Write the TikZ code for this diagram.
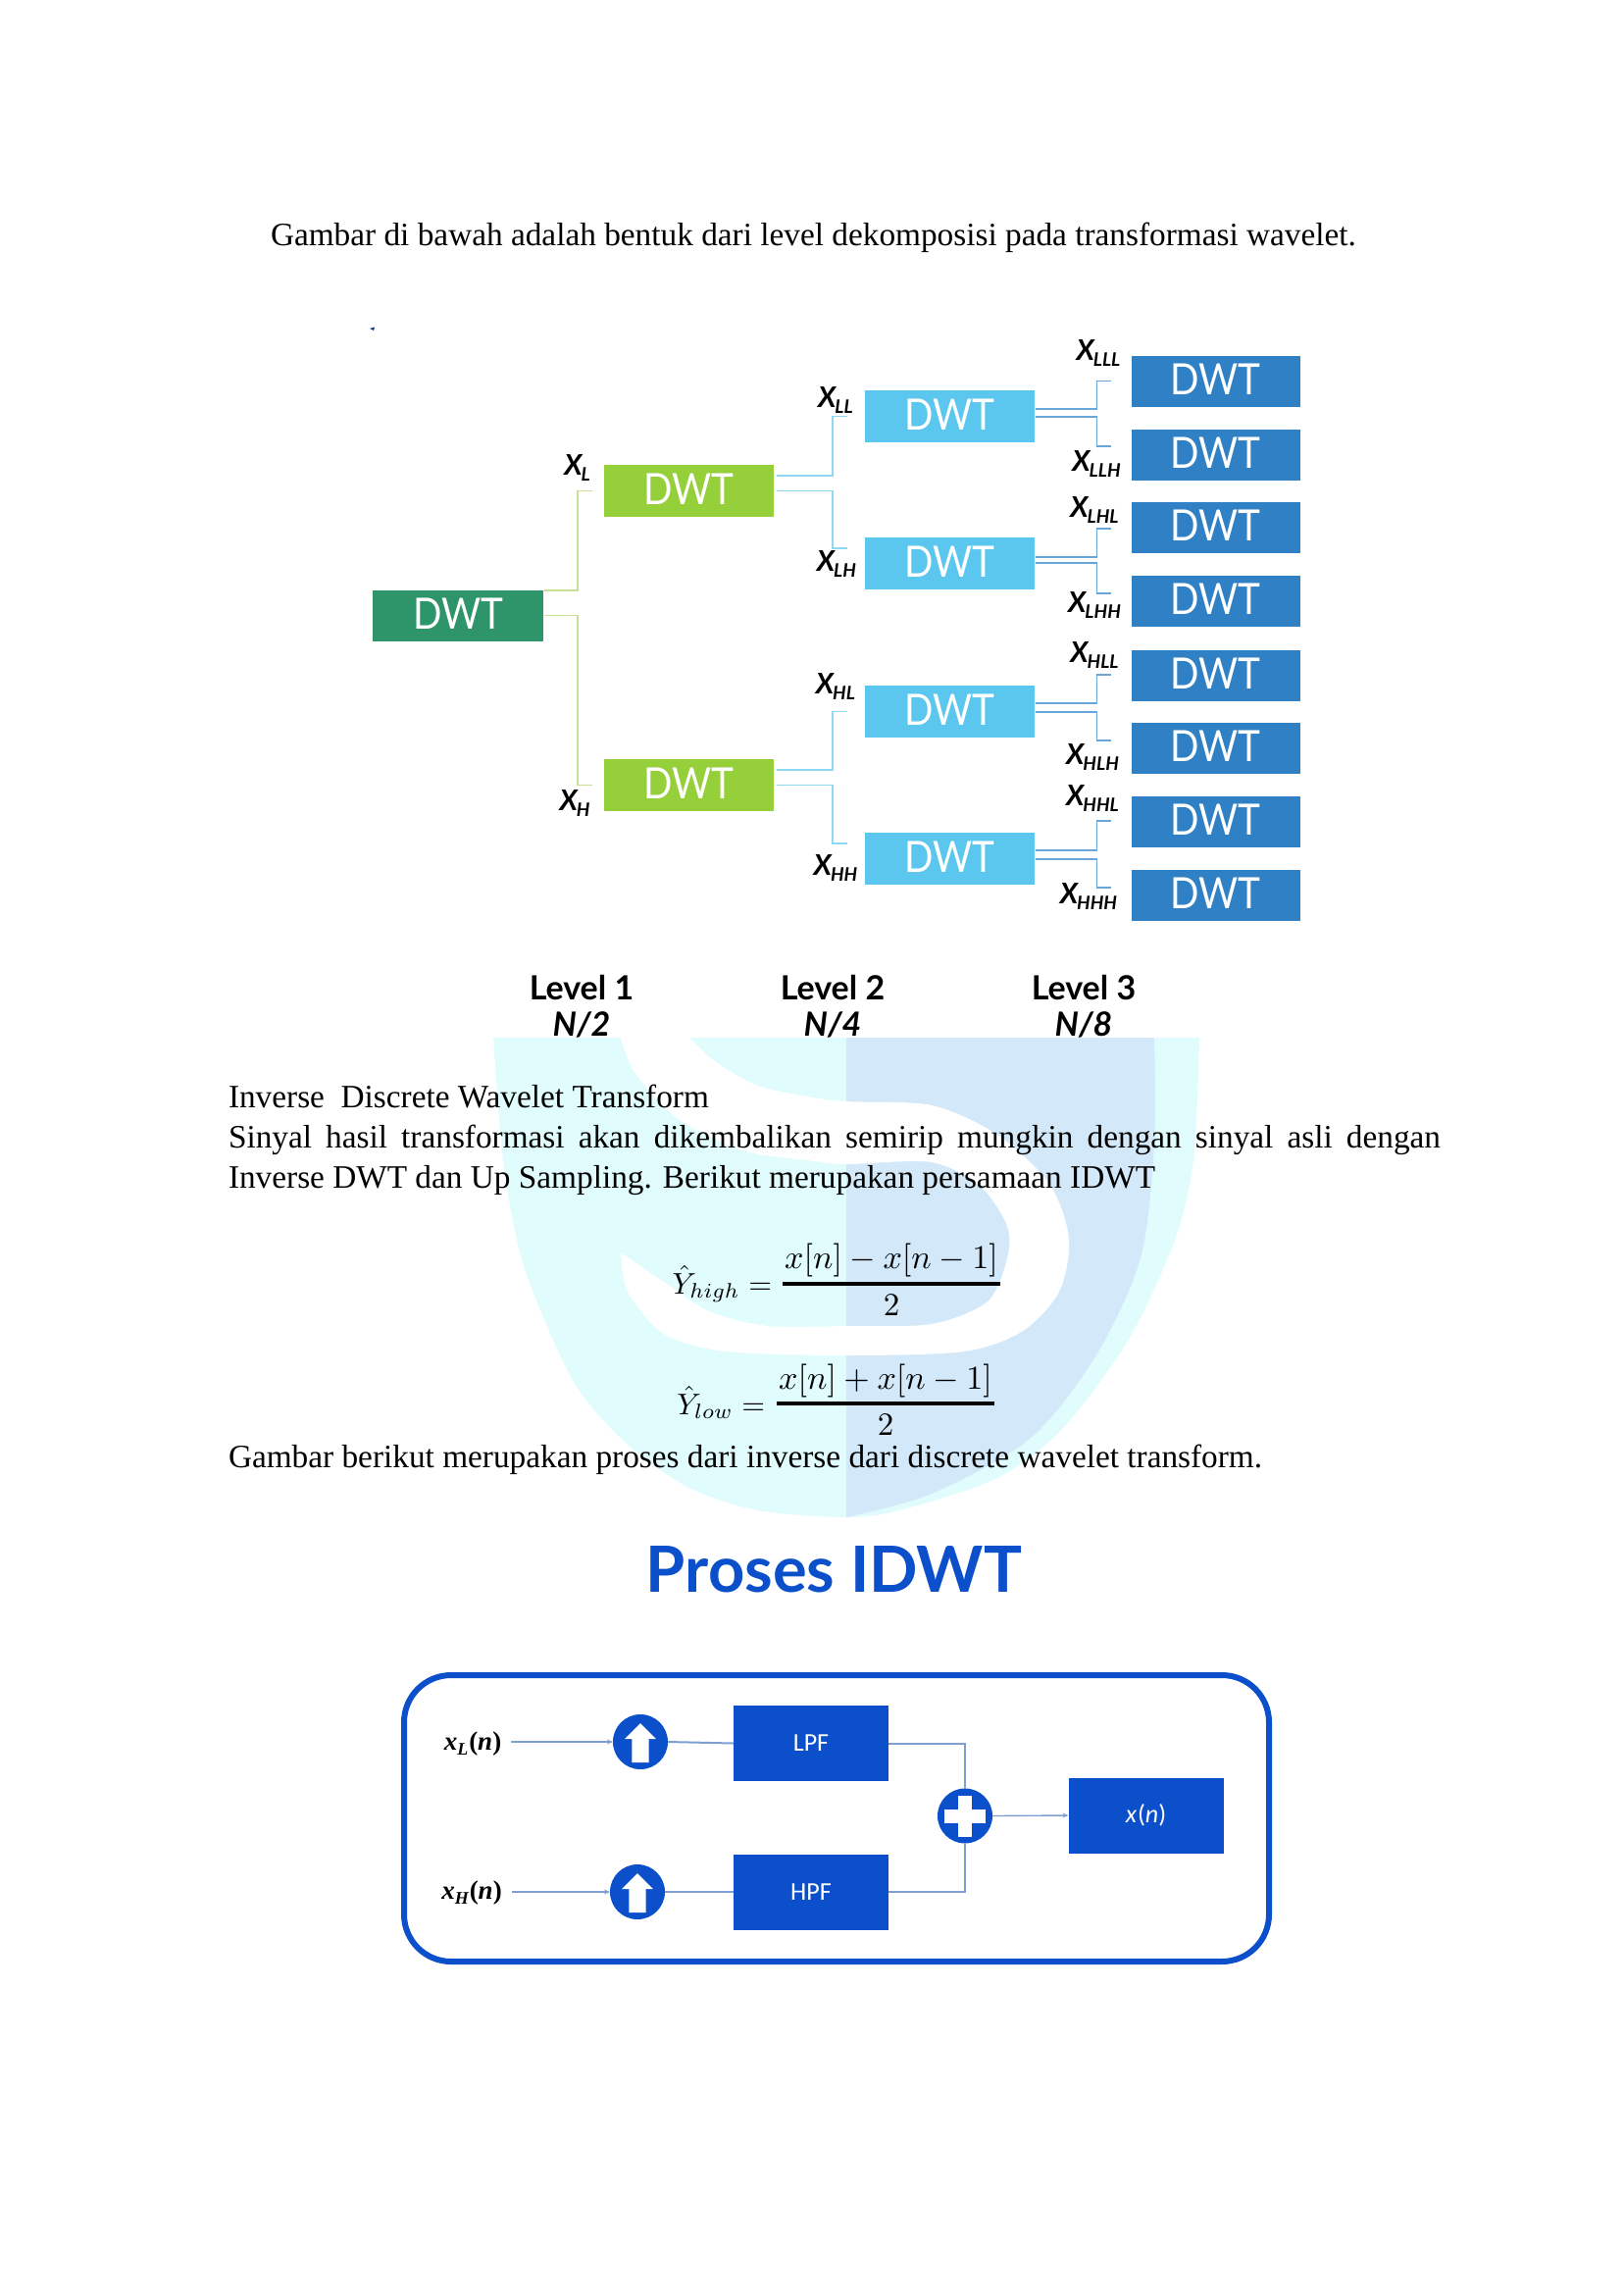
\documentclass[tikz,border=0pt]{standalone}
\usepackage{fontspec}
\setmainfont{Liberation Serif}
\newfontfamily\lato{Lato}
\newfontfamily\carl{Carlito}
\usetikzlibrary{calc,arrows.meta}
\definecolor{wmcyan}{HTML}{E0FCFD}
\definecolor{wmblue}{HTML}{D3E9F9}
\definecolor{cRoot}{HTML}{2E9469}
\definecolor{cOne}{HTML}{95CF3A}
\definecolor{cTwo}{HTML}{5BC6EE}
\definecolor{cThree}{HTML}{2F80C4}
\definecolor{lnGreen}{HTML}{C6E096}
\definecolor{lnCyan}{HTML}{8FD8F2}
\definecolor{lnBlue}{HTML}{6AA6D8}
\definecolor{royal}{HTML}{0B4FCB}
\definecolor{lnRoyal}{HTML}{7F9FD3}
\newcommand{\fs}[1]{\fontsize{#1}{#1}\selectfont}
\newcommand{\xlab}[1]{\lato\bfseries\itshape\fs{29}X\kern-1pt\raisebox{-6pt}{\fs{19}#1}}
\newcommand{\dwtword}{\scalebox{0.88}[1]{DWT}}
\tikzset{
  every node/.style={inner sep=0pt,outer sep=0pt},
  dwtbase/.style={text=white,font=\lato\fs{44},text depth=4pt,align=center},
  dwtRoot/.style={dwtbase,fill=cRoot,minimum width=174pt,minimum height=52pt},
  dwtOne/.style={dwtbase,fill=cOne,minimum width=173pt,minimum height=53pt},
  dwtTwo/.style={dwtbase,fill=cTwo,minimum width=173pt,minimum height=53pt},
  dwtThree/.style={dwtbase,fill=cThree,minimum width=172pt,minimum height=52pt},
  xname/.style={text=black},
  lvl/.style={font=\lato\bfseries\fs{34},text=black},
  lvlN/.style={font=\lato\bfseries\itshape\fs{34},text=black},
  body/.style={font=\fs{33.3},text=black,anchor=base west},
  eq/.style={text=black,anchor=base},
  eqlhs/.style={text=black,anchor=base east},
  linkA/.style={draw=lnGreen,line width=1.7pt},
  linkB/.style={draw=lnCyan,line width=1.7pt},
  linkC/.style={draw=lnBlue,line width=1.7pt},
  fbox/.style={fill=royal,text=white,minimum width=158pt,minimum height=77pt,font=\carl\fs{26}},
  opdisc/.style={circle,fill=royal,minimum size=56pt},
  wire/.style={draw=lnRoyal,line width=2pt},
  tinyarrow/.style={-{Stealth[length=6pt,width=5pt]}},
  fracbar/.style={draw=black,line width=4pt},
  sigl/.style={font=\bfseries\itshape\fs{27},text=black},
}
\begin{document}
\begin{tikzpicture}[x=1pt,y=-1pt]
\useasboundingbox (0,0) rectangle (1655,2339);
% watermark
\fill[wmcyan] (503,1058) -- (1223,1058)
  -- plot[smooth] coordinates {(1223,1058) (1217,1183) (1197,1267) (1150,1367) (1083,1457) (1017,1507) (917,1540) (863,1547) (773,1540) (703,1517) (640,1473) (590,1417) (557,1350) (530,1277) (513,1183) (503,1058)} -- cycle;
\fill[wmblue] (863,1058) -- (1177,1058)
  -- plot[smooth] coordinates {(1177,1058) (1177,1167) (1163,1283) (1117,1383) (1050,1467) (950,1523) (863,1547)} -- cycle;
\fill[white] plot[smooth] coordinates {(703,1058) (730,1083) (773,1107) (823,1118) (863,1123) (950,1127) (1017,1157) (1070,1207) (1090,1263) (1080,1317) (1043,1357) (983,1378) (863,1382) (740,1378) (677,1360) (640,1317) (633,1277)}
  -- plot[smooth] coordinates {(633,1277) (677,1307) (723,1337) (783,1352) (863,1352) (950,1350) (1007,1327) (1027,1283) (1027,1250) (1000,1210) (950,1185) (863,1187) (823,1183) (757,1173) (690,1140) (647,1093) (633,1058)} -- cycle;
% boxes level tree
\node[dwtRoot] (root) at (467,627.5) {\dwtword};
\node[dwtOne] (la) at (702.5,500.5) {\dwtword};
\node[dwtOne] (lb) at (702.5,800.5) {\dwtword};
\node[dwtTwo] (ma) at (968.5,424.5) {\dwtword};
\node[dwtTwo] (mb) at (968.5,574.5) {\dwtword};
\node[dwtTwo] (mc) at (968.5,725.5) {\dwtword};
\node[dwtTwo] (md) at (968.5,875.5) {\dwtword};
\node[dwtThree] (ha) at (1239.5,388.5) {\dwtword};
\node[dwtThree] (hb) at (1239.5,463.5) {\dwtword};
\node[dwtThree] (hc) at (1239.5,538) {\dwtword};
\node[dwtThree] (hd) at (1239.5,613) {\dwtword};
\node[dwtThree] (he) at (1239.5,688.5) {\dwtword};
\node[dwtThree] (hf) at (1239.5,763) {\dwtword};
\node[dwtThree] (hg) at (1239.5,838) {\dwtword};
\node[dwtThree] (hh) at (1239.5,913) {\dwtword};
% connectors
\draw[linkA] ($(root.east)+(1,-25.5)$) -| ($(la.west)+(-27,0)$) -- ($(la.west)+(-12,0)$);
\draw[linkA] ($(root.east)+(1,0)$) -| ($(lb.west)+(-27,0)$) -- ($(lb.west)+(-12,0)$);
\draw[linkB] ($(la.east)+(3,-15.5)$) -| ($(ma.west)+(-33,0)$) -- ($(ma.west)+(-18,0)$);
\draw[linkB] ($(la.east)+(3,0)$) -| ($(mb.west)+(-33,-15.5)$) -- ($(mb.west)+(-18,-15.5)$);
\draw[linkB] ($(lb.east)+(3,-15.5)$) -| ($(mc.west)+(-33,0)$) -- ($(mc.west)+(-18,0)$);
\draw[linkB] ($(lb.east)+(3,0)$) -| ($(md.west)+(-33,-15.5)$) -- ($(md.west)+(-18,-15.5)$);
\draw[linkC] ($(ma.east)+(1,-7.5)$) -| ($(ha.west)+(-35,0)$) -- ($(ha.west)+(-20.5,0)$);
\draw[linkC] ($(ma.east)+(1,0.5)$) -| ($(hb.west)+(-35,-8.5)$) -- ($(hb.west)+(-20.5,-8.5)$);
\draw[linkC] ($(mb.east)+(1,-6.5)$) -| ($(hc.west)+(-35,1)$) -- ($(hc.west)+(-20.5,1)$);
\draw[linkC] ($(mb.east)+(1,-0.5)$) -| ($(hd.west)+(-35,-8)$) -- ($(hd.west)+(-20.5,-8)$);
\draw[linkC] ($(mc.east)+(1,-8.5)$) -| ($(he.west)+(-35,-0.5)$) -- ($(he.west)+(-20.5,-0.5)$);
\draw[linkC] ($(mc.east)+(1,0.5)$) -| ($(hf.west)+(-35,-8)$) -- ($(hf.west)+(-20.5,-8)$);
\draw[linkC] ($(md.east)+(1,-8.5)$) -| ($(hg.west)+(-35,-1)$) -- ($(hg.west)+(-20.5,-1)$);
\draw[linkC] ($(md.east)+(1,0.5)$) -| ($(hh.west)+(-35,-8)$) -- ($(hh.west)+(-20.5,-8)$);
% tree labels
\node[xname] (xL) at (588.5,477) {\xlab{L}};
\node[xname] (xH) at (586,819) {\xlab{H}};
\node[xname] (xLL) at (852,408) {\xlab{LL}};
\node[xname] (xLH) at (853,575) {\xlab{LH}};
\node[xname] (xHL) at (852,700) {\xlab{HL}};
\node[xname] (xHH) at (852,885) {\xlab{HH}};
\node[xname] (xLLL) at (1120,360) {\xlab{LLL}};
\node[xname] (xLLH) at (1118,473) {\xlab{LLH}};
\node[xname] (xLHL) at (1116,520) {\xlab{LHL}};
\node[xname] (xLHH) at (1116,617) {\xlab{LHH}};
\node[xname] (xHLL) at (1116,668) {\xlab{HLL}};
\node[xname] (xHLH) at (1114,772) {\xlab{HLH}};
\node[xname] (xHHL) at (1114,814) {\xlab{HHL}};
\node[xname] (xHHH) at (1110,914) {\xlab{HHH}};
\fill[royal!70!black] (377,335) -- (382,333.5) -- (381,337) -- cycle;
% levels
\node[lvl] (l1) at (593,1007) {Level 1};
\node[lvlN] (n1) at (593,1045) {N/2};
\node[lvl] (l2) at (849,1007) {Level 2};
\node[lvlN] (n2) at (849,1045) {N/4};
\node[lvl] (l3) at (1105,1007) {Level 3};
\node[lvlN] (n3) at (1105,1045) {N/8};
% body text
\node[body] (t1) at (276,250.5) {Gambar di bawah adalah bentuk dari level dekomposisi pada transformasi wavelet.};
\node[body] (t2) at (233,1129) {Inverse\ \ Discrete Wavelet Transform};
\node[body] (t3) at (233,1170) {\makebox[1236pt][s]{Sinyal hasil transformasi akan dikembalikan semirip mungkin dengan sinyal asli dengan}};
\node[body] (t4) at (233,1211.5) {Inverse DWT dan Up Sampling. Berikut merupakan persamaan IDWT};
\node[body] (t5) at (233,1496.5) {Gambar berikut merupakan proses dari inverse dari discrete wavelet transform.};
% equations
\node[eqlhs] (e1l) at (787,1319) {\scalebox{3.05}{$\hat{Y}_{high}=$}};
\node[eq] (e1n) at (909,1293) {\scalebox{3.4}{$x[n]-x[n-1]$}};
\node[eq] (e1d) at (909,1341) {\scalebox{3.3}{$2$}};
\coordinate (e1a) at (798,1309); \coordinate (e1b) at (1020,1309);
\draw[fracbar] (e1a) -- (e1b);
\node[eqlhs] (e2l) at (780,1442) {\scalebox{3.05}{$\hat{Y}_{low}=$}};
\node[eq] (e2n) at (903,1416) {\scalebox{3.4}{$x[n]+x[n-1]$}};
\node[eq] (e2d) at (903,1463) {\scalebox{3.3}{$2$}};
\coordinate (e2a) at (792,1431); \coordinate (e2b) at (1014,1431);
\draw[fracbar] (e2a) -- (e2b);
% IDWT
\node[font=\lato\bfseries\fs{65},text=royal,anchor=base] (title) at (850.5,1623) {Proses IDWT};
\draw[royal,line width=6pt,rounded corners=48pt] (412,1708) rectangle (1294,2000);
\node[fbox] (lpf) at (827,1777.5) {LPF};
\node[fbox] (hpf) at (827,1929) {HPF};
\node[fbox] (out) at (1168.5,1851) {\itshape x\kern1pt\upshape(\itshape n\upshape)};
\node[opdisc] (up1) at (653,1776) {};
\node[opdisc] (up2) at (650,1929) {};
\node[opdisc] (sum) at (984,1851.5) {};
\foreach \c in {up1,up2}{
  \begin{scope}[shift={(\c)}]
  \fill[white] (0,-19) -- (16,-3) -- (8.6,-3) -- (8.6,21) -- (-8.6,21) -- (-8.6,-3) -- (-16,-3) -- cycle;
  \end{scope}}
\begin{scope}[shift={(sum)}]
\fill[white] (-7,-21) rectangle (7,21);
\fill[white] (-21,-7) rectangle (21,7);
\end{scope}
\node[sigl] (sl) at (482,1778) {x\raisebox{-5pt}{\fs{18}L}\kern1pt\upshape\bfseries(\itshape n\upshape)};
\node[sigl] (sh) at (481,1930) {x\raisebox{-5pt}{\fs{18}H}\kern1pt\upshape\bfseries(\itshape n\upshape)};
\coordinate (slfree) at (521,1776);
\coordinate (shfree) at (522,1929);
\draw[wire,tinyarrow] (slfree) -- (up1.west);
\draw[wire,tinyarrow] (shfree) -- (up2.west);
\draw[wire] (up1.east) -- (lpf.west);
\draw[wire] (up2.east) -- (hpf.west);
\draw[wire] (lpf.east) -| (sum.north);
\draw[wire] (hpf.east) -| (sum.south);
\draw[wire,line width=1.4pt,tinyarrow] (sum.east) -- (out.west);
\end{tikzpicture}
\end{document}
